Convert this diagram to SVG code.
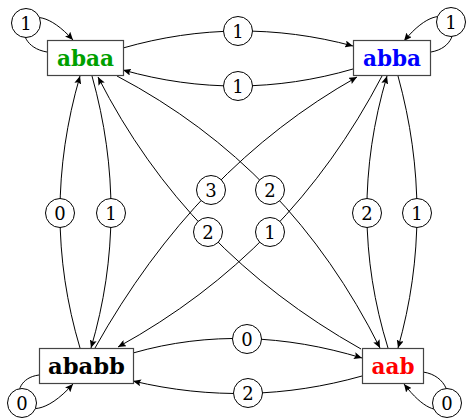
<svg xmlns="http://www.w3.org/2000/svg" width="467" height="418" viewBox="0 0 467 418">
<style>
.e{fill:none;stroke:#000;stroke-width:1;marker-end:url(#ah)}
.box{fill:#fff;stroke:#444;stroke-width:1.2}
.nt{font-family:"DejaVu Serif",serif;font-weight:bold;font-size:22px;text-anchor:middle}
.lc{fill:#fff;stroke:#000;stroke-width:1}
.lt{font-family:"DejaVu Serif",serif;font-size:18px;text-anchor:middle}
</style>
<defs>
<marker id="ah" markerUnits="userSpaceOnUse" markerWidth="9" markerHeight="7" refX="8" refY="3.5" orient="auto">
<path d="M0,0 L8,3.5 L0,7 L1.5,3.5 z" fill="#000"/>
</marker>
</defs>
<rect width="467" height="418" fill="#fff"/>
<g id="connectors">
<path class="e" d="M47,52 C5,45 24,-14 73,40"/>
<path class="e" d="M431,52 C472,45 452,-17 404,41"/>
<path class="e" d="M39,375 C0,380 21,442 73,384"/>
<path class="e" d="M423,372 C465,378 451,445 404,384"/>
<path class="e" d="M123,48 C199.7,26 276.3,25.4 353,46"/>
<path class="e" d="M353,69 C276.3,91.3 199.7,91.7 123,70"/>
<path class="e" d="M133,353 C208.7,331.3 284.9,334.7 362,358"/>
<path class="e" d="M362,376 C286.4,397.3 210.4,399.4 133,381"/>
<path class="e" d="M80,348 C53.3,258.6 53.3,167.9 80,76"/>
<path class="e" d="M92,76 C117.7,168 117.3,258.6 91,348"/>
<path class="e" d="M388,348 C360.3,258.6 359.7,167.9 387,76"/>
<path class="e" d="M398,76 C423.3,168 423.3,258.7 398,348"/>
<path class="e" d="M117,76 C233.4,137.4 320,228 380,348"/>
<path class="e" d="M361,349 C244.6,283.6 157,193 98,77"/>
<path class="e" d="M95,348 C162.3,227.7 249.7,137.3 357,77"/>
<path class="e" d="M382,76 C320.7,193.6 232.7,284 118,347"/>
</g>
<g id="labels">
<circle class="lc" cx="26" cy="23" r="14.5"/><text class="lt" x="26" y="29.5">1</text>
<circle class="lc" cx="451" cy="22" r="14.5"/><text class="lt" x="451" y="28.5">1</text>
<circle class="lc" cx="22" cy="403" r="14.5"/><text class="lt" x="22" y="409.5">0</text>
<circle class="lc" cx="447" cy="403" r="14.5"/><text class="lt" x="447" y="409.5">0</text>
<circle class="lc" cx="238" cy="31" r="14.5"/><text class="lt" x="238" y="37.5">1</text>
<circle class="lc" cx="238" cy="86" r="14.5"/><text class="lt" x="238" y="92.5">1</text>
<circle class="lc" cx="247" cy="339" r="14.5"/><text class="lt" x="247" y="345.5">0</text>
<circle class="lc" cx="248" cy="393" r="14.5"/><text class="lt" x="248" y="399.5">2</text>
<circle class="lc" cx="60" cy="213" r="14.5"/><text class="lt" x="60" y="219.5">0</text>
<circle class="lc" cx="111" cy="213" r="14.5"/><text class="lt" x="111" y="219.5">1</text>
<circle class="lc" cx="367" cy="213" r="14.5"/><text class="lt" x="367" y="219.5">2</text>
<circle class="lc" cx="417" cy="213" r="14.5"/><text class="lt" x="417" y="219.5">1</text>
<circle class="lc" cx="211" cy="190" r="14.5"/><text class="lt" x="211" y="196.5">3</text>
<circle class="lc" cx="270" cy="190" r="14.5"/><text class="lt" x="270" y="196.5">2</text>
<circle class="lc" cx="208" cy="232" r="14.5"/><text class="lt" x="208" y="238.5">2</text>
<circle class="lc" cx="270" cy="232" r="14.5"/><text class="lt" x="270" y="238.5">1</text>
</g>
<g id="abaa"><rect class="box" x="47.5" y="40.5" width="76" height="35"/><text class="nt" x="85.5" y="66" fill="#00a000" textLength="57" lengthAdjust="spacingAndGlyphs">abaa</text></g>
<g id="abba"><rect class="box" x="353.5" y="40.5" width="77" height="35"/><text class="nt" x="392" y="66" fill="#0000ff" textLength="58" lengthAdjust="spacingAndGlyphs">abba</text></g>
<g id="ababb"><rect class="box" x="39.5" y="348.5" width="94" height="35"/><text class="nt" x="86.5" y="374" fill="#000" textLength="77" lengthAdjust="spacingAndGlyphs">ababb</text></g>
<g id="aab"><rect class="box" x="362.5" y="348.5" width="61" height="35"/><text class="nt" x="393" y="374" fill="#ff0000" textLength="43" lengthAdjust="spacingAndGlyphs">aab</text></g>
</svg>
